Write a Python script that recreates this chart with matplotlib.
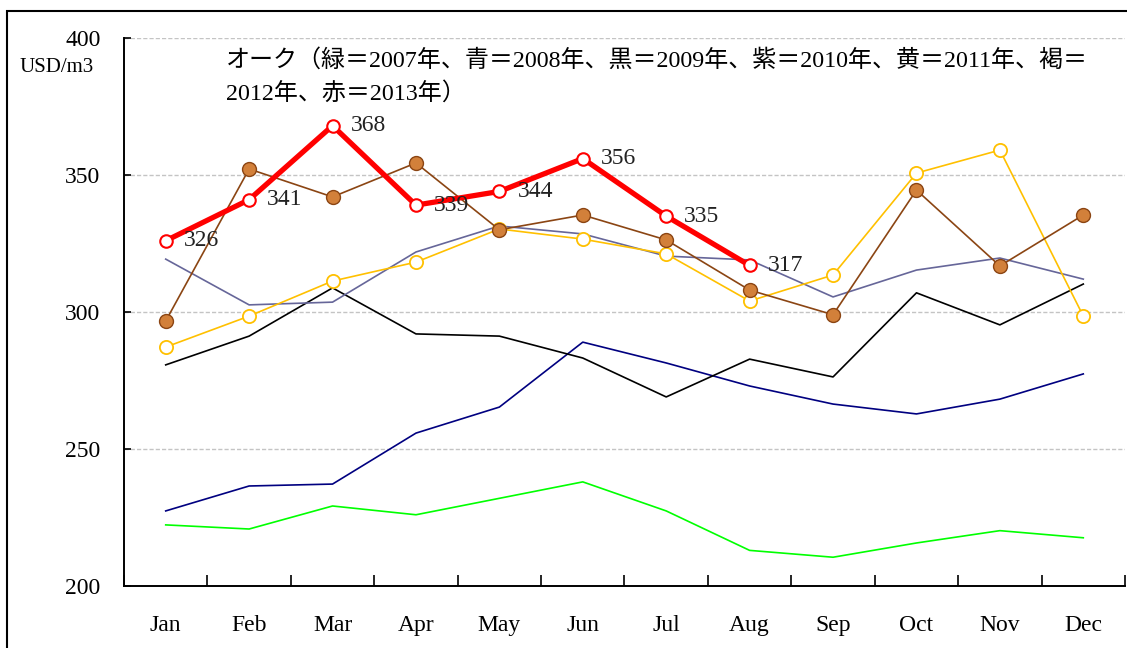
import matplotlib
matplotlib.use("Agg")
import matplotlib.pyplot as plt
from matplotlib.patches import Rectangle
import numpy as np

plt.rcParams['font.family'] = ['Liberation Serif', 'Noto Sans CJK JP']

months = ["Jan", "Feb", "Mar", "Apr", "May", "Jun",
          "Jul", "Aug", "Sep", "Oct", "Nov", "Dec"]

oak_2007 = [222.3, 220.8, 229.2, 226.0, 232.0, 238.0, 227.4, 213.0, 210.5, 215.7, 220.2, 217.6]
oak_2008 = [227.4, 236.5, 237.2, 255.8, 265.3, 289.0, 281.4, 273.0, 266.4, 262.8, 268.2, 277.4]
oak_2009 = [280.7, 291.2, 308.8, 292.0, 291.2, 283.2, 269.0, 282.8, 276.3, 307.0, 295.3, 310.2]
oak_2010 = [319.3, 302.6, 303.6, 321.9, 331.4, 328.5, 320.4, 319.0, 305.5, 315.3, 319.7, 312.0]
oak_2011 = [287.2, 298.5, 311.3, 318.2, 330.3, 326.6, 321.2, 304.0, 313.5, 350.7, 359.1, 298.5]
oak_2012 = [296.7, 352.2, 342.0, 354.4, 330.0, 335.4, 326.3, 308.0, 299.0, 344.5, 316.8, 335.4]
oak_2013 = [326, 341, 368, 339, 344, 356, 335, 317]

title_lines = ["オーク（緑＝2007年、青＝2008年、黒＝2009年、紫＝2010年、黄＝2011年、褐＝",
               "2012年、赤＝2013年）"]

fig = plt.figure(figsize=(11.27, 6.48), dpi=100)
ax = fig.add_axes([124 / 1127, 1 - 586 / 648, 1001 / 1127, 548 / 648])

x = np.arange(1, 13)
ax.plot(x, oak_2007, color="#00FF00", lw=1.2, zorder=3)
ax.plot(x, oak_2008, color="#000080", lw=1.2, zorder=3)
ax.plot(x, oak_2009, color="black", lw=1.2, zorder=3)
ax.plot(x, oak_2010, color="#666699", lw=1.2, zorder=3)
ax.plot(x, oak_2011, color="#FFC000", lw=1.2, marker="o", ms=9.5,
        mfc="white", mec="#FFC000", mew=1.3, zorder=4)
ax.plot(x, oak_2012, color="#8B4513", lw=1.2, marker="o", ms=10,
        mfc="#D2803A", mec="#8B4513", mew=1.0, zorder=5)
x13 = np.arange(1, len(oak_2013) + 1)
ax.plot(x13, oak_2013, color="red", lw=3.8, marker="o", ms=9,
        mfc="white", mec="red", mew=1.5, zorder=6)
for xi, v in zip(x13, oak_2013):
    ax.annotate(str(v), (xi, v), xytext=(13, 0), textcoords="offset points",
                ha="left", va="center", fontsize=17, color="#222222", zorder=7)

ax.set_xlim(0.5, 12.5)
ax.set_ylim(200, 400)
ax.set_yticks([200, 250, 300, 350, 400])
ax.set_xticks(x)
ax.set_xticklabels(months)
ax.set_xticks(np.arange(0.5, 13), minor=True)
ax.tick_params(axis="x", which="major", length=0, pad=21, labelsize=17)
ax.tick_params(axis="x", which="minor", direction="in", length=8, width=1.2)
ax.tick_params(axis="y", direction="in", length=5, width=1.2, pad=17, labelsize=17)
ax.grid(axis="y", color="#C4C4C4", linestyle=(0, (3, 1.5)), linewidth=1.0)
for side in ["top", "right"]:
    ax.spines[side].set_visible(False)
for side in ["left", "bottom"]:
    ax.spines[side].set_linewidth(1.4)

# note text inside the plot, two lines
for line, ypix in zip(title_lines, [60, 93]):
    fig.text(226 / 1127, 1 - ypix / 648, line, ha="left", va="center", fontsize=17.3)
fig.text(20 / 1127, 1 - 67 / 648, "USD/m3", ha="left", va="center", fontsize=15)

# outer frame
fig.patches.append(Rectangle((7 / 1127, -0.05), 1.1, 1 - 11 / 648 + 0.05,
                             transform=fig.transFigure, fill=False,
                             edgecolor="black", linewidth=1.5))

fig.savefig("out.png", dpi=100)
